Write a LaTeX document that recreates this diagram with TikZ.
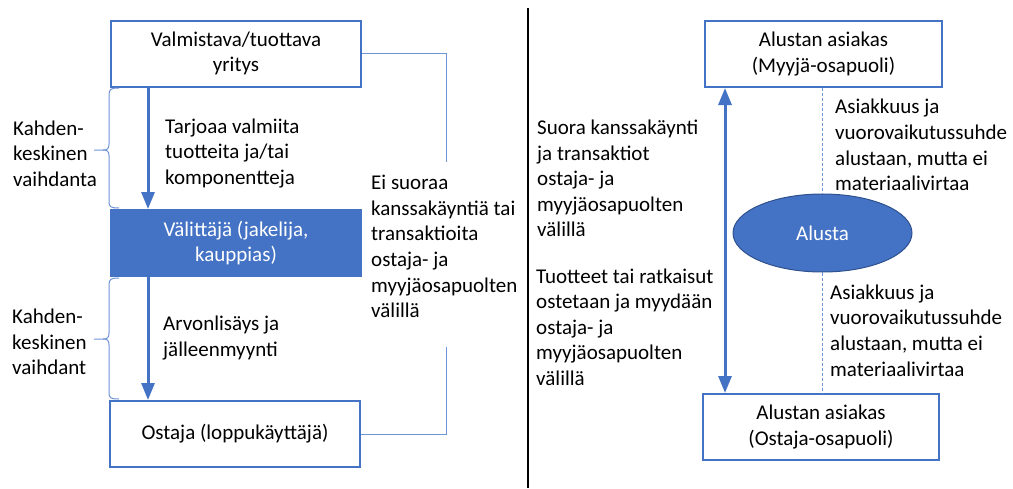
\documentclass[tikz,border=0pt]{standalone}
\usepackage{fontspec}
\setmainfont{Carlito}
\usetikzlibrary{arrows.meta,shapes.geometric}
\definecolor{bl}{HTML}{4472C4}
\definecolor{bldark}{HTML}{2F528F}
\definecolor{thinbl}{HTML}{6F94D6}
\begin{document}
\begin{tikzpicture}[x=1pt,y=-1pt,
  every node/.style={font=\fontsize{21}{25.6}\selectfont},
  whitebox/.style={draw=bl,line width=2pt,fill=white,minimum width=#1,minimum height=66pt,align=center,inner sep=0pt},
  bluebox/.style={draw=bl,line width=2pt,fill=bl,text=white,minimum width=250pt,minimum height=66pt,align=center,inner sep=0pt},
  txt/.style={align=left,anchor=west,inner sep=0pt},
  bigarrow/.style={draw=bl,line width=3pt,-{Triangle[width=13pt,length=17pt]}},
  dblarrow/.style={draw=bl,line width=3pt,{Triangle[width=13pt,length=17pt]}-{Triangle[width=13pt,length=17pt]}},
  thin/.style={draw=thinbl,line width=1pt},
  dashline/.style={draw=thinbl,line width=1pt,dash pattern=on 3pt off 2pt}
]
\useasboundingbox (0,0) rectangle (1013,488);
% left side boxes
\node[whitebox=250pt] (top) at (236,53.5) {Valmistava/tuottava\\yritys};
\node[bluebox] (mid) at (236,243) {Välittäjä (jakelija,\\kauppias)};
\node[whitebox=250pt] (low) at (235,434) {Ostaja (loppukäyttäjä)};
\coordinate (ax) at (148,0);
\draw[bigarrow] (top.south -| ax) -- (mid.north -| ax);
\draw[bigarrow] (mid.south -| ax) -- (low.north -| ax);
% braces
\draw[thin] (119,88) .. controls (111,88) and (109,89) .. (109,95) -- (109,144)
  .. controls (109,149) and (107,150) .. (103,150) -- (94,150);
\draw[thin] (103,150) .. controls (107,150) and (109,151) .. (109,156) -- (109,202)
  .. controls (109,207) and (111,208) .. (119,208);
\draw[thin] (119,278) .. controls (111,278) and (109,279) .. (109,285) -- (109,333)
  .. controls (109,338) and (107,339) .. (103,339) -- (94,339);
\draw[thin] (103,339) .. controls (107,339) and (109,340) .. (109,345) -- (109,393)
  .. controls (109,398) and (111,399) .. (119,399);
\node[txt] (k1) at (13,153.5) {Kahden-\\keskinen\\vaihdanta};
\node[txt] (k2) at (12,342) {Kahden-\\keskinen\\vaihdant};
\node[txt] (t1) at (165,153.5) {Tarjoaa valmiita\\tuotteita ja/tai\\komponentteja};
\node[txt] (t2) at (163,338) {Arvonlisäys ja\\jälleenmyynti};
% right connector of left diagram
\coordinate (c1) at (446,162);
\coordinate (c2) at (446,347);
\draw[thin] (top.east) -| (c1);
\draw[thin] (c2) |- (low.east);
\node[txt] (ei) at (371,246.5) {Ei suoraa\\kanssakäyntiä tai\\transaktioita\\ostaja- ja\\myyjäosapuolten\\välillä};
% divider
\draw[line width=2pt,black] (528,8) -- (528,488);
% right side
\node[whitebox=237pt] (rtop) at (823.5,54) {Alustan asiakas\\(Myyjä-osapuoli)};
\node[whitebox=236pt] (rbot) at (821,427) {Alustan asiakas\\(Ostaja-osapuoli)};
\node[ellipse,draw=bldark,line width=1pt,fill=bl,text=white,minimum width=179pt,minimum height=78pt,inner sep=0pt] (alusta) at (822.5,233) {Alusta};
\coordinate (bx) at (725,0);
\draw[dblarrow] (rtop.south -| bx) -- (rbot.north -| bx);
\draw[dashline] (alusta.north |- rtop.south) -- (alusta.north);
\draw[dashline] (alusta.south) -- (alusta.south |- rbot.north);
\node[txt] (s1) at (537,178.5) {Suora kanssakäynti\\ja transaktiot\\ostaja- ja\\myyjäosapuolten\\välillä};
\node[txt] (s2) at (536,327) {Tuotteet tai ratkaisut\\ostetaan ja myydään\\ostaja- ja\\myyjäosapuolten\\välillä};
\node[txt] (a1) at (835,145) {Asiakkuus ja\\vuorovaikutussuhde\\alustaan, mutta ei\\materiaalivirtaa};
\node[txt] (a2) at (830,330.5) {Asiakkuus ja\\vuorovaikutussuhde\\alustaan, mutta ei\\materiaalivirtaa};
\end{tikzpicture}
\end{document}
